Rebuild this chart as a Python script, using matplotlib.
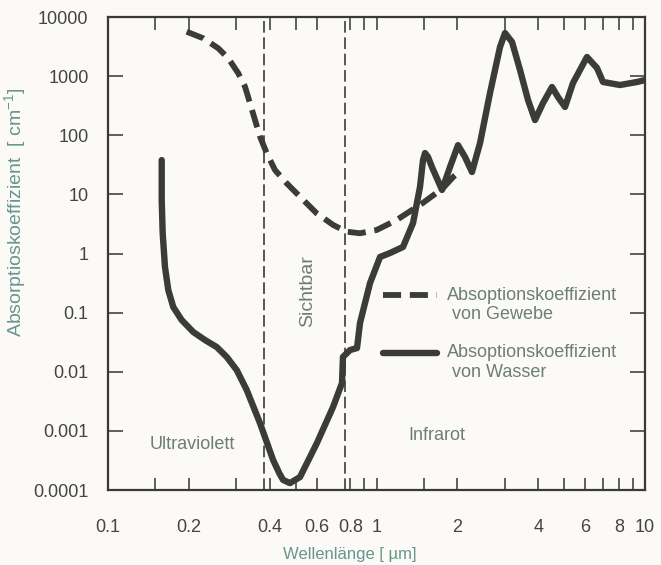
import matplotlib.pyplot as plt

plt.rcParams["font.family"] = ["Liberation Sans", "DejaVu Sans"]

# datos: longitud de onda en um, coeficiente en 1/cm
wl_wasser = [0.1585, 0.1585, 0.1598, 0.163, 0.1677, 0.175, 0.1881, 0.2078, 0.2298, 0.254,
             0.2768, 0.3015, 0.3286, 0.368, 0.412, 0.435, 0.449, 0.476, 0.519, 0.600,
             0.689, 0.744, 0.750, 0.797, 0.846, 0.868, 0.946, 1.031, 1.123, 1.255,
             1.368, 1.452, 1.49, 1.516, 1.555, 1.609, 1.754, 1.878, 2.012, 2.136,
             2.268, 2.43, 2.647, 2.884, 3.01, 3.197, 3.424, 3.667, 3.894, 4.17,
             4.504, 4.742, 5.036, 5.393, 6.08, 6.626, 6.977, 8.07, 9.34, 10.0]
mu_wasser = [38, 8.03, 2.22, 0.591, 0.241, 0.1245, 0.075, 0.047, 0.0344, 0.0262,
             0.0178, 0.0107, 0.00491, 0.00136, 0.000322, 0.00019, 0.000148, 0.000131, 0.000166, 0.000624,
             0.00254, 0.00646, 0.0178, 0.0233, 0.0252, 0.0668, 0.317, 0.873, 1.02, 1.29,
             3.28, 13.3, 38, 50, 43, 29, 11.9, 29, 68, 42.9,
             23.9, 74, 519, 3112, 5357, 3780, 1270, 394, 181, 351,
             655, 443, 301, 766, 2106, 1372, 796, 708, 796, 859]

wl_gewebe = [0.1964, 0.2264, 0.2575, 0.2805, 0.3057, 0.3238, 0.338, 0.3528, 0.3683, 0.3902,
             0.4188, 0.463, 0.5189, 0.5988, 0.6904, 0.7745, 0.868, 1.0017, 1.189, 1.49,
             1.77, 1.93, 2.08]
mu_gewebe = [5641, 4363, 2955, 2002, 1116, 662, 347, 181, 94.5, 49.5,
             25.8, 15.4, 9.13, 4.78, 3.03, 2.34, 2.2, 2.5, 3.69, 7.2,
             12.8, 19.7, 26]

# limites del espectro visible
grenze_uv = 0.38
grenze_ir = 0.76

xticks = [0.1, 0.15, 0.2, 0.3, 0.4, 0.5, 0.6, 0.8, 0.9, 1, 1.5, 2, 3, 4, 5, 6, 7, 8, 9, 10]
xticklabels = ["0.1", "", "0.2", "", "0.4", "", "0.6", "0.8", "", "1", "", "2", "", "4", "", "6", "", "8", "", "10"]
yticks = [1e-4, 1e-3, 1e-2, 1e-1, 1, 10, 100, 1000, 10000]
yticklabels = ["0.0001", "0.001", "0.01", "0.1", "1", "10", "100", "1000", "10000"]

linie = "#3b3b39"
text_farbe = "#6e7d76"
achse_farbe = "#679590"

fig = plt.figure(figsize=(6.61, 5.65), dpi=100, facecolor="#fbfaf6")
ax = fig.add_axes([0.1634, 0.1327, 0.8124, 0.8372])
ax.set_facecolor("#fbfaf6")

ax.axvline(grenze_uv, color=linie, lw=1.2, dashes=(7, 2.8))
ax.axvline(grenze_ir, color=linie, lw=1.2, dashes=(7, 2.8))

ax.plot(wl_gewebe, mu_gewebe, color=linie, lw=4.2, dashes=(3.1, 1.5),
        label="Absoptionskoeffizient\n von Gewebe")
ax.plot(wl_wasser, mu_wasser, color=linie, lw=4.6, solid_joinstyle="round",
        solid_capstyle="round", label="Absoptionskoeffizient\n von Wasser")

ax.set_xscale("log")
ax.set_yscale("log")
ax.set_xlim(0.1, 10)
ax.set_ylim(1e-4, 1e4)

ax.set_xticks(xticks)
ax.set_xticklabels(xticklabels)
ax.set_yticks(yticks)
ax.set_yticklabels(yticklabels)
ax.minorticks_off()
ax.tick_params(axis="x", direction="in", length=9, width=1.2, pad=21,
               labelsize=13, colors="#444444", top=True, bottom=True)
ax.tick_params(axis="y", direction="in", length=11, width=1.2, pad=14,
               labelsize=13, colors="#444444", left=True, right=True)
for s in ax.spines.values():
    s.set_linewidth(1.6)
    s.set_color("#3a3a34")

ax.set_xlabel("Wellenlänge [ µm]", fontsize=12, color=achse_farbe)
ax.xaxis.set_label_coords(0.45, -0.121)
ax.set_ylabel("Absorptioskoeffizient  [ cm$^{\\mathregular{-1}}$]", fontsize=14, color=achse_farbe)
ax.yaxis.set_label_coords(-0.147, 0.588)

ax.text(0.2055, 5.8e-4, "Ultraviolett", fontsize=13, color=text_farbe, ha="center", va="center")
ax.text(1.68, 8.5e-4, "Infrarot", fontsize=13, color=text_farbe, ha="center", va="center")
ax.text(0.553, 0.232, "Sichtbar", fontsize=14, color=text_farbe, ha="center", va="center",
        rotation=90)

leg = ax.legend(loc="upper left", bbox_to_anchor=(0.512, 0.43), frameon=False,
                fontsize=13, handlelength=3.0, handletextpad=0.55, labelspacing=1.15,
                borderpad=0, borderaxespad=0)
for t in leg.get_texts():
    t.set_color(text_farbe)
for l in leg.get_lines():
    l.set_ydata([y + 7 for y in l.get_ydata()])

fig.savefig("out.png", dpi=100, facecolor=fig.get_facecolor())
